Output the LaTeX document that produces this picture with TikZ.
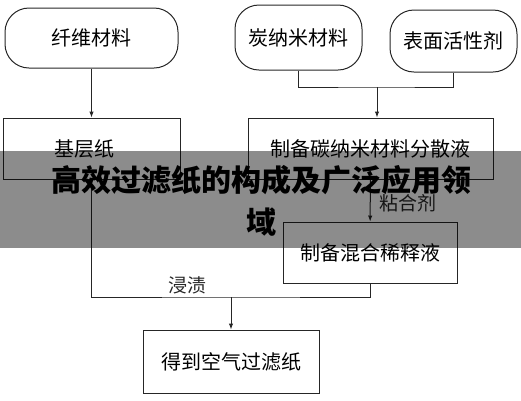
\documentclass[tikz,border=0pt]{standalone}
\usepackage{fontspec}
\newfontfamily\cjk{Noto Sans CJK SC}
\usetikzlibrary{arrows.meta, positioning, calc}

\begin{document}
\begin{tikzpicture}[x=1pt,y=-1pt,
    line/.style={draw=black!85,line width=1pt},
    arr/.style={line,-{Latex[length=6pt,width=4.5pt]}},
    rawbox/.style={line,rectangle,rounded corners=24pt,font=\cjk\fontsize{20}{20}\selectfont},
    stepbox/.style={line,rectangle,font=\cjk\fontsize{20}{20}\selectfont},
    lab/.style={font=\cjk\fontsize{19}{19}\selectfont,text=black!85}]
    \useasboundingbox (0,0) rectangle (521,400);

    % Materie prime
    \node[rawbox,minimum width=173pt,minimum height=60pt] (fibre) at (91.5,38) {纤维材料};
    \node[rawbox,minimum width=127pt,minimum height=65pt] (carbon) at (298.5,37.5) {炭纳米材料};
    \node[rawbox,minimum width=127pt,minimum height=62pt] (surf) at (453.5,41) {表面活性剂};

    % Passi di preparazione
    \node[stepbox,minimum width=177pt,minimum height=61pt] (base) at (91.5,148.5) {\hspace*{-14pt}基层纸};
    \node[stepbox,minimum width=245pt,minimum height=61pt] (disp) at (370.5,148.5) {制备碳纳米材料分散液};
    \node[stepbox,minimum width=174pt,minimum height=61pt] (mix) at (370,252.5) {制备混合稀释液};
    \node[stepbox,minimum width=176pt,minimum height=63pt] (paper) at (231,361.5) {得到空气过滤纸};

    % Collegamenti
    \draw[arr] (fibre) -- (base);
    \coordinate (join) at (377,87);
    \draw[line] (carbon.south) |- (join) -| (surf.south);
    \draw[arr] (join) -- (join |- disp.north);
    \draw[arr] (disp) -- (mix);
    \node[lab] (binder) at (408,203) {粘合剂};
    \coordinate (merge) at (231,297);
    \draw[line] (base.south) |- (merge) -| (mix.south);
    \draw[arr] (merge) -- (paper);
    \node[lab] (soak) at (187,285) {浸渍};

    % Fascia del titolo
    \fill[black,opacity=0.45] (0,151) rectangle (521,248);
    \node[font=\cjk\bfseries\fontsize{30}{42}\selectfont,align=center] (title) at (261,201) {高效过滤纸的构成及广泛应用领\\域};
\end{tikzpicture}
\end{document}
